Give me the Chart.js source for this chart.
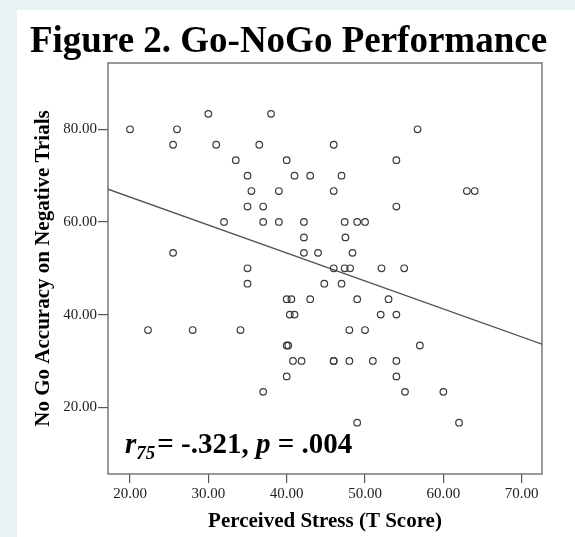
<!DOCTYPE html>
<html>
<head>
<meta charset="utf-8">
<title>Figure 2. Go-NoGo Performance</title>
<script src="https://cdn.jsdelivr.net/npm/chart.js@4.4.1/dist/chart.umd.min.js"></script>
<style>
  html, body { margin: 0; padding: 0; background: #e9f3f5; }
  body { width: 575px; height: 537px; position: relative; overflow: hidden; }
  #card { position: absolute; left: 17px; top: 10px; width: 558px; height: 527px; background: #fff; }
  #goChart { display: block; }
</style>
</head>
<body>
<div id="card">
  <canvas id="goChart" width="558" height="527"></canvas>
</div>
<script>
// ---- Data ----
// Perceived Stress (T score) per participant
const stressX = [
  20, 26, 30, 38, 25.5, 31, 36.5, 33.5, 40, 35,
  41, 43, 35.5, 39, 35, 37, 32, 37, 39, 42.2,
  42.2, 25.5, 42.2, 44, 35, 56.7, 46, 54, 47, 46,
  63, 64, 54, 47.4, 49, 50, 47.5, 48.4, 46, 47.4,
  48.1, 52.1, 55, 44.8, 47, 49, 53, 52, 54, 48,
  50, 57, 46, 46, 48, 51, 54, 54, 55.1, 60,
  49, 62, 35, 40, 40.6, 43, 40.4, 41, 22.3, 28,
  34.1, 40, 40.2, 40.8, 41.9, 40, 37
];
// No Go accuracy on negative trials (%)
const accuracyY = [
  80, 80, 83.33, 83.33, 76.67, 76.67, 76.67, 73.33, 73.33, 70,
  70, 70, 66.67, 66.67, 63.33, 63.33, 60, 60, 60, 60,
  56.67, 53.33, 53.33, 53.33, 50, 80, 76.67, 73.33, 70, 66.67,
  66.67, 66.67, 63.33, 60, 60, 60, 56.67, 53.33, 50, 50,
  50, 50, 50, 46.67, 46.67, 43.33, 43.33, 40, 40, 36.67,
  36.67, 33.33, 30, 30, 30, 30, 30, 26.67, 23.33, 23.33,
  16.67, 16.67, 46.67, 43.33, 43.33, 43.33, 40, 40, 36.67, 36.67,
  36.67, 33.33, 33.33, 30, 30, 26.67, 23.33
];
// fit line end points (at the axis edges)
const fitX = [17.19, 72.59];
const fitY = [67.07, 33.63];

const xTicks = [20, 30, 40, 50, 60, 70];
const yTicks = [20, 40, 60, 80];

const titleText = "Figure 2. Go-NoGo Performance";
const xTitle = "Perceived Stress (T Score)";
const yTitle = "No Go Accuracy on Negative Trials";

const SERIF = "'Liberation Serif', 'Times New Roman', Times, serif";

// ---- Plugin: frame, title, stats note ----
const figureDecor = {
  id: "figureDecor",
  beforeDatasetsDraw(chart) {
    const { ctx, chartArea: a } = chart;
    ctx.save();
    ctx.strokeStyle = "#6e6e6e";
    ctx.lineWidth = 1.4;
    ctx.strokeRect(a.left, a.top, a.right - a.left, a.bottom - a.top);
    ctx.restore();
  },
  afterDraw(chart) {
    const { ctx } = chart;
    ctx.save();
    ctx.fillStyle = "#000";
    ctx.textBaseline = "alphabetic";

    // title
    ctx.font = "bold 37px " + SERIF;
    ctx.textAlign = "center";
    ctx.fillText(titleText, 271.5, 42);

    // r75 = -.321, p = .004
    ctx.textAlign = "left";
    let x = 108;
    const base = 443;
    const parts = [
      { t: "r", f: "italic bold 29px ", dy: 0 },
      { t: "75", f: "italic bold 19px ", dy: 6 },
      { t: "= -.321, ", f: "bold 29px ", dy: 0 },
      { t: "p", f: "italic bold 29px ", dy: 0 },
      { t: " = .004", f: "bold 29px ", dy: 0 },
    ];
    parts.forEach((p) => {
      ctx.font = p.f + SERIF;
      ctx.fillText(p.t, x, base + p.dy);
      x += ctx.measureText(p.t).width;
      if (p.t === "75") x += 2;
    });
    ctx.restore();
  },
};

// ---- Chart ----
const ctx = document.getElementById("goChart");
const points = stressX.map((v, i) => ({ x: v, y: accuracyY[i] }));
const fitLine = fitX.map((v, i) => ({ x: v, y: fitY[i] }));

new Chart(ctx, {
  type: "scatter",
  data: {
    datasets: [
      {
        label: "Fit",
        data: fitLine,
        showLine: true,
        borderColor: "#555",
        borderWidth: 1.3,
        pointRadius: 0,
        order: 2,
      },
      {
        label: "Participants",
        data: points,
        pointStyle: "circle",
        pointRadius: 3.3,
        pointBorderWidth: 1.2,
        borderColor: "#3a3a3a",
        backgroundColor: "rgba(0,0,0,0)",
        order: 1,
      },
    ],
  },
  options: {
    responsive: false,
    animation: false,
    devicePixelRatio: 1,
    layout: { padding: { top: 53, right: 33, left: 0, bottom: 0 } },
    plugins: {
      legend: { display: false },
      tooltip: { enabled: false },
      title: { display: false },
    },
    scales: {
      x: {
        type: "linear",
        min: 17.19,
        max: 72.59,
        afterBuildTicks: (s) => { s.ticks = xTicks.map((v) => ({ value: v })); },
        afterFit: (s) => { s.height = 63; },
        border: { display: false },
        grid: { drawOnChartArea: false, drawTicks: true, tickLength: 9, color: "#555", lineWidth: 1.2 },
        ticks: {
          color: "#222",
          padding: 2,
          maxRotation: 0,
          font: { family: SERIF, size: 15 },
          callback: (v) => Number(v).toFixed(2),
        },
        title: {
          display: true,
          text: xTitle,
          color: "#000",
          font: { family: SERIF, size: 21, weight: "bold" },
          padding: { top: 0, bottom: 3 },
        },
      },
      y: {
        type: "linear",
        min: 5.6,
        max: 94.31,
        afterBuildTicks: (s) => { s.ticks = yTicks.map((v) => ({ value: v })); },
        afterFit: (s) => { s.width = 91; },
        border: { display: false },
        grid: { drawOnChartArea: false, drawTicks: true, tickLength: 10, color: "#555", lineWidth: 1.2 },
        ticks: {
          color: "#222",
          padding: 1,
          font: { family: SERIF, size: 15 },
          callback: (v) => Number(v).toFixed(2),
        },
        title: {
          display: true,
          text: yTitle,
          color: "#000",
          font: { family: SERIF, size: 21, weight: "bold" },
          padding: { top: 14, bottom: 0 },
        },
      },
    },
  },
  plugins: [figureDecor],
});
</script>
</body>
</html>
